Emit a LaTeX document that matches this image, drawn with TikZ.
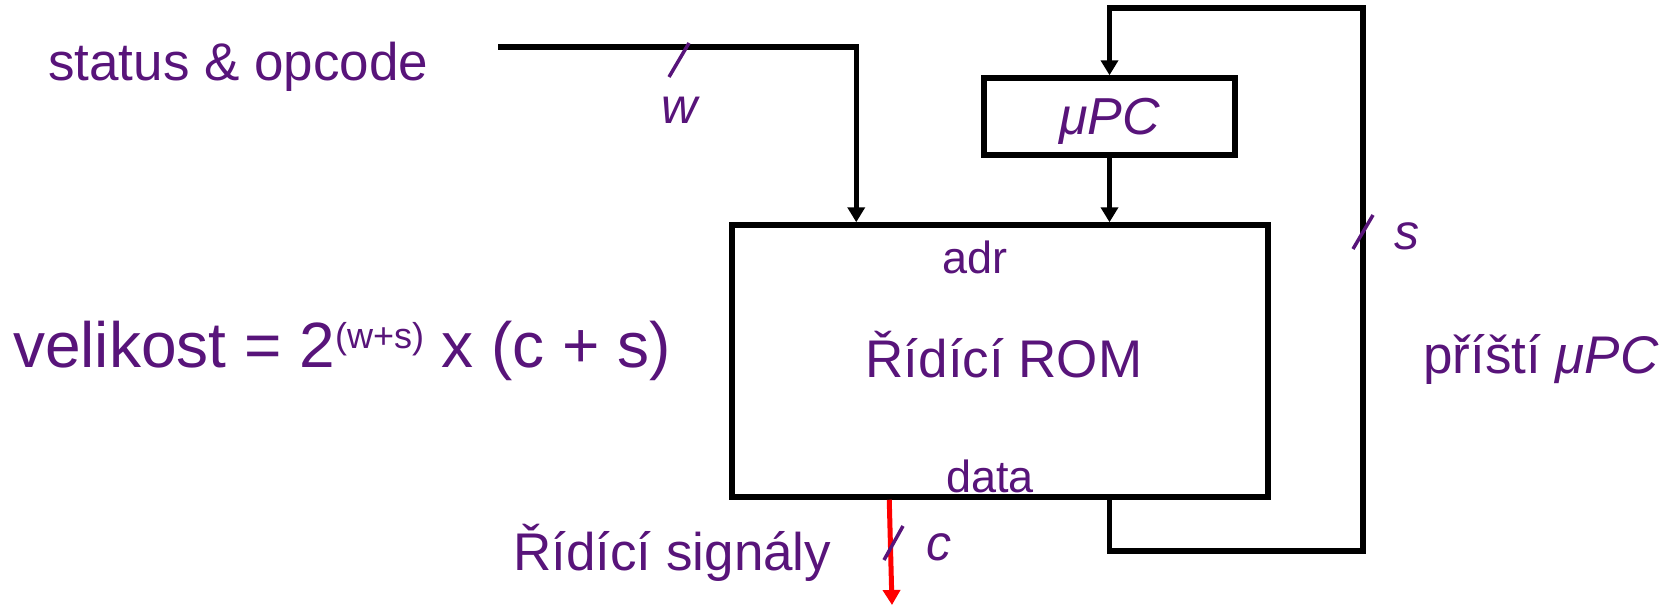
\documentclass[tikz,border=0pt]{standalone}
\usepackage{fontspec}
\setmainfont{Liberation Sans}
\usetikzlibrary{arrows.meta}
\definecolor{ink}{RGB}{88,20,122}

\begin{document}
\begin{tikzpicture}[x=1pt,y=-1pt,
        wire/.style={line width=5.5pt},
        sig/.style={draw=red,line width=5pt},
        tip/.style={-{Triangle[width=17pt,length=15pt]}},
        box/.style={draw,line width=5.5pt,inner sep=0pt},
        lbl/.style={text=ink,inner sep=0pt,anchor=base},
        tick/.style={draw=ink,line width=3.5pt},
        big/.style={font=\fontsize{53}{60}\selectfont},
        small/.style={font=\fontsize{45}{50}\selectfont},
        vari/.style={font=\fontsize{50}{55}\selectfont\itshape}]
            \useasboundingbox (0,0) rectangle (1675,605);
            \node[box,minimum width=536pt,minimum height=272pt] (rom) at (1000,361) {};
            \node[box,minimum width=251pt,minimum height=77pt,text=ink,text depth=0pt,
                font=\fontsize{52}{58}\selectfont\itshape] (upc) at (1109.5,116.5) {μPC};
            \node[lbl,small] (adr) at (975,273) {adr};
            \node[lbl,big] (romtext) at (1004,377) {Řídící ROM};
            \node[lbl,small] (data) at (990,492) {data};
            \node[lbl,big,anchor=base west] (status) at (48,80) {status \& opcode};
            \node[lbl,big,anchor=base west] (signals) at (513,570) {Řídící signály};
            \node[lbl,big,anchor=base west] (next) at (1423,373) {příští \textit{μPC}};
            \node[lbl,anchor=base west,font=\fontsize{64}{70}\selectfont] (size) at (13,367)
                {velikost = 2\raisebox{19pt}{\fontsize{36}{40}\selectfont(w+s)} x (c + s)};
            \node[lbl,vari] (w) at (680,123) {w};
            \node[lbl,vari] (s) at (1407,249) {s};
            \node[lbl,vari] (c) at (939,560) {c};
            \coordinate (src) at (498,47);
            \coordinate (fbup) at (1363,8);
            \coordinate (fbdn) at (1363,551);
            \coordinate (out) at (892,605);
            \draw[wire,tip] (src) -| ([xshift=127pt]rom.north west);
            \draw[wire,tip] (upc.south) -- (upc.south |- rom.north);
            \draw[wire,tip] (rom.south -| upc.south) |- (fbdn) -- (fbup) -| (upc.north);
            \draw[sig,tip] ([xshift=160pt]rom.south west) -- (out);
            \draw[tick] (689,43) -- (669,77);
            \draw[tick] (1373,215) -- (1353,249);
            \draw[tick] (903,526) -- (884,560);
        \end{tikzpicture}
\end{document}
